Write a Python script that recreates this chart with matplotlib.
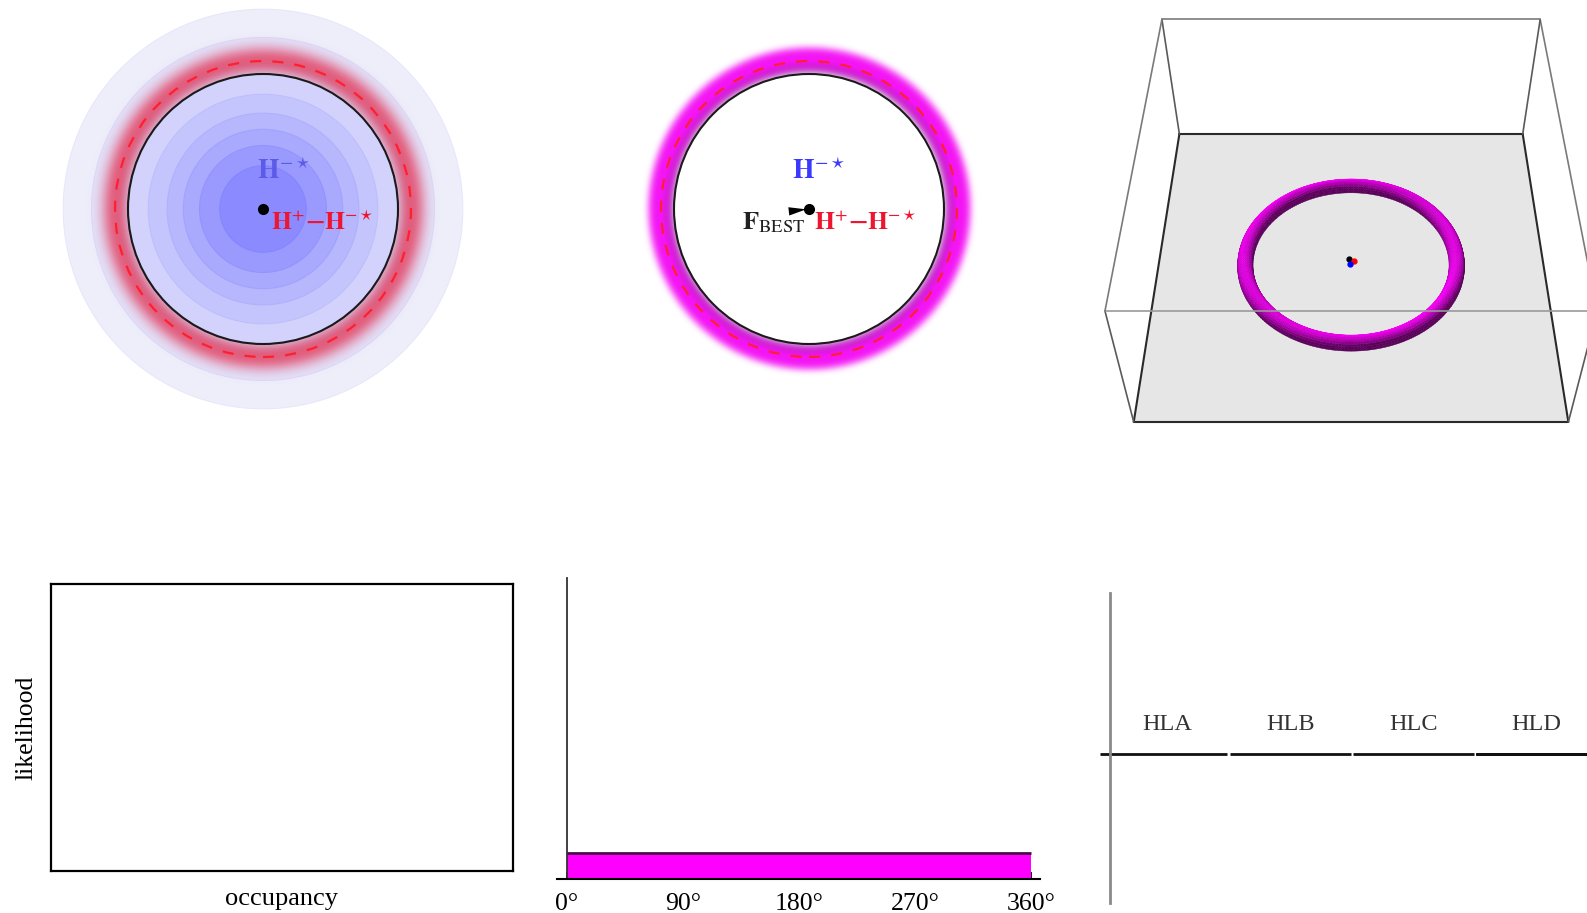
import numpy as np
import matplotlib
matplotlib.use("Agg")
import matplotlib.pyplot as plt
from matplotlib.patches import Circle, Polygon
from matplotlib.collections import PolyCollection
from matplotlib.colors import LinearSegmentedColormap, to_rgb

W, H = 1587, 913

plt.rcParams['font.family'] = ['Liberation Serif', 'DejaVu Serif']
plt.rcParams['mathtext.fontset'] = 'stix'

# likelihood contours of the hole boundary (radius relative to the true hole)
ring_radius = [1.48, 1.27, 1.00, 0.85, 0.71, 0.59, 0.47, 0.32]
ring_level = [0.02, 0.12, 0.26, 0.38, 0.50, 0.62, 0.75, 0.88]

true_radius = 1.0
est_radius = 1.10
est_spread = 0.10
best_fit = (0.0, 0.0)

# 3d view of the recovered ring on the detector floor
ring3d_radius = 0.55
ring3d_tube = 0.04
ring3d_height = 0.055
centre_marks_x = [-0.012, 0.015, -0.004]
centre_marks_y = [0.012, 0.0, -0.022]
centre_marks_c = ['black', 'red', 'blue']

# angular histogram
angle_left = [0]
angle_width = [360]
angle_density = [0.087]
angle_ticks = [0, 90, 180, 270, 360]
angle_labels = ['0°', '90°', '180°', '270°', '360°']

# handle-level summary
hl_names = ['HLA', 'HLB', 'HLC', 'HLD']
hl_values = [0, 0, 0, 0]

H_STAR = r'$\mathbf{H}^{-\star}$'
H_DIFF = r'$\mathbf{H}^{+}\mathbf{-}\mathbf{H}^{-\star}$'

fig = plt.figure(figsize=(W / 100, H / 100), dpi=100)


def px_axes(x0, y0, x1, y1):
    return fig.add_axes([x0 / W, 1 - y1 / H, (x1 - x0) / W, (y1 - y0) / H])


g = np.linspace(-1.5, 1.5, 801)
gx, gy = np.meshgrid(g, g)
rr = np.hypot(gx, gy)


def band_image(color, inner_color, peak, power):
    a = peak * np.exp(-np.abs((rr - est_radius) / est_spread) ** power)
    a[rr < true_radius] = 0
    mix = np.clip((est_radius - rr) / est_spread, 0, 1)[..., None] * 0.6
    img = np.zeros(rr.shape + (4,))
    img[..., :3] = np.array(to_rgb(color)) * (1 - mix) + np.array(to_rgb(inner_color)) * mix
    img[..., 3] = a
    return img


def disc_axes(cx):
    ax = px_axes(cx - 202.5, 6.5, cx + 202.5, 411.5)
    ax.set_xlim(-1.5, 1.5)
    ax.set_ylim(-1.5, 1.5)
    ax.set_aspect('equal')
    ax.axis('off')
    return ax


def boundary_lines(ax):
    ax.add_patch(Circle((0, 0), est_radius - 0.004, fill=False, ec='#ff1f2f',
                        lw=1.6, ls=(0, (5, 5)), zorder=4))
    ax.add_patch(Circle((0, 0), true_radius, fill=False, ec='#1a1a1a', lw=1.5, zorder=5))


# panel 1: likelihood map
ax1 = disc_axes(263)
cmap = LinearSegmentedColormap.from_list('lik', ['#f0f0fb', '#7e7eff'])
for r, lv in zip(ring_radius, ring_level):
    ax1.add_patch(Circle((0, 0), r, fc=cmap(lv), ec=cmap(min(lv + 0.06, 1)), lw=0.8, zorder=1))
ax1.imshow(band_image('#e23355', '#c01040', 0.75, 2.2), extent=(-1.5, 1.5, -1.5, 1.5),
           origin='lower', interpolation='bilinear', zorder=3)
boundary_lines(ax1)
ax1.plot(*best_fit, 'o', color='black', ms=7, zorder=6)
ax1.text(best_fit[0] + 0.15, best_fit[1] + 0.27, H_STAR, color='#5b5be8',
         fontsize=20, ha='center', va='center', zorder=6)
ax1.text(best_fit[0] + 0.06, best_fit[1] - 0.10, H_DIFF, color='#ee1530',
         fontsize=18.5, ha='left', va='center', zorder=6)

# panel 2: estimated boundary band
ax2 = disc_axes(809)
ax2.imshow(band_image('#f414f4', '#7c2a88', 1.0, 4), extent=(-1.5, 1.5, -1.5, 1.5),
           origin='lower', interpolation='bilinear', zorder=3)
boundary_lines(ax2)
ax2.plot(*best_fit, 'o', color='black', ms=7, zorder=6)
ax2.annotate('', xy=best_fit, xytext=(best_fit[0] - 0.17, best_fit[1] - 0.02),
             arrowprops=dict(arrowstyle='wedge,tail_width=0.6', color='black', lw=0), zorder=6)
ax2.text(best_fit[0] + 0.07, best_fit[1] + 0.27, H_STAR, color='#3a3aff',
         fontsize=20, ha='center', va='center', zorder=6)
ax2.text(best_fit[0] + 0.04, best_fit[1] - 0.10, H_DIFF, color='#ee1530',
         fontsize=18.5, ha='left', va='center', zorder=6)
ax2.text(best_fit[0] - 0.03, best_fit[1] - 0.10, r'$\mathbf{F}_{\mathrm{BEST}}$', color='#202020',
         fontsize=19, ha='right', va='center', zorder=6)

# panel 3: perspective box with the ring lying on its floor
cam_d, cam_h, cam_tilt = 3.855, 4.246, np.radians(47.7)
box_h = 0.80


def project(x, y, z):
    x, y, z = np.broadcast_arrays(np.asarray(x, float), np.asarray(y, float), np.asarray(z, float))
    w = y + cam_d
    v = cam_h - z
    depth = w * np.cos(cam_tilt) + v * np.sin(cam_tilt)
    return x / depth, (w * np.sin(cam_tilt) - v * np.cos(cam_tilt)) / depth, depth


ax3 = px_axes(1080, 0, 1587, 440)
ax3.set_xlim(-0.2464, 0.2145)
ax3.set_ylim(-0.1637, 0.2363)
ax3.axis('off')

cx = np.array([-1, 1, 1, -1])
cy = np.array([-1, -1, 1, 1])
fx, fy, _ = project(cx, cy, 0)
ax3.add_patch(Polygon(np.column_stack([fx, fy]), closed=True, fc='#e6e6e6', ec='none', zorder=1))


def edge(p, q, color, lw, z=2):
    sx, sy, _ = project([p[0], q[0]], [p[1], q[1]], [p[2], q[2]])
    ax3.plot(sx, sy, color=color, lw=lw, zorder=z, solid_capstyle='round')


for i in range(4):
    j = (i + 1) % 4
    edge((cx[i], cy[i], 0), (cx[j], cy[j], 0), '#2a2a2a', 1.5)

nu, nv = 240, 12
u = np.linspace(0, 2 * np.pi, nu + 1)
v = np.linspace(0, np.pi, nv + 1)
U, V = np.meshgrid(u, v, indexing='ij')
Rr = ring3d_radius + ring3d_tube * np.cos(V)
px, py, dep = project(Rr * np.cos(U), Rr * np.sin(U), ring3d_height * np.sin(V))
light = np.array([-0.3, 0.55, 0.8])
light /= np.linalg.norm(light)
polys, depths, shades = [], [], []
for i in range(nu):
    for j in range(nv):
        quad = [(px[i, j], py[i, j]), (px[i + 1, j], py[i + 1, j]),
                (px[i + 1, j + 1], py[i + 1, j + 1]), (px[i, j + 1], py[i, j + 1])]
        um = 0.5 * (u[i] + u[i + 1])
        vm = 0.5 * (v[j] + v[j + 1])
        n = np.array([np.cos(vm) * np.cos(um), np.cos(vm) * np.sin(um), np.sin(vm)])
        polys.append(quad)
        depths.append(dep[i:i + 2, j:j + 2].mean())
        shades.append(0.35 + 0.65 * max(0.0, n @ light))
order = np.argsort(depths)[::-1]
cols = [(shades[k], 0.0, shades[k]) for k in order]
ax3.add_collection(PolyCollection([polys[k] for k in order], facecolors=cols,
                                  edgecolors=cols, linewidths=0.3, zorder=3))

mx, my, _ = project(centre_marks_x, centre_marks_y, 0)
for x_, y_, c_ in zip(mx, my, centre_marks_c):
    ax3.plot(x_, y_, 'o', color=c_, ms=3.5, zorder=4)

for i in range(4):
    j = (i + 1) % 4
    edge((cx[i], cy[i], 0), (cx[i], cy[i], box_h), '#5a5a5a', 1.2, z=5)
    color = '#9a9a9a' if i == 0 else '#7a7a7a'
    edge((cx[i], cy[i], box_h), (cx[j], cy[j], box_h), color, 1.2, z=5)

# panel 4: occupancy likelihood
ax4 = px_axes(51, 584, 513, 871)
ax4.set_xticks([])
ax4.set_yticks([])
for s in ax4.spines.values():
    s.set_linewidth(1.6)
ax4.set_xlabel('occupancy', fontsize=19, labelpad=12)
ax4.set_ylabel('likelihood', fontsize=18.5, labelpad=10)

# panel 5: orientation histogram
ax5 = px_axes(557, 578, 1040, 879)
ax5.bar(angle_left, angle_density, width=angle_width, align='edge', color='#ff00ff', zorder=2)
ax5.hlines(angle_density, angle_left, np.add(angle_left, angle_width), color='#4a0a4a', lw=2, zorder=3)
ax5.set_xlim(-7.8, 366.9)
ax5.set_ylim(0, 1)
for s in ['top', 'right']:
    ax5.spines[s].set_visible(False)
ax5.spines['left'].set_position(('data', 0))
ax5.spines['left'].set_color('#333333')
ax5.spines['left'].set_linewidth(1.3)
ax5.spines['bottom'].set_linewidth(1.5)
ax5.spines['bottom'].set_zorder(4)
ax5.set_yticks([])
ax5.set_xticks(angle_ticks, angle_labels)
ax5.tick_params(axis='x', direction='in', length=5, width=1.3, labelsize=18.5, pad=10)

# panel 6: handle-level categories
ax6 = px_axes(1110, 593, 1660, 903)
ax6.bar(range(len(hl_names)), hl_values, width=0.98, color='none', edgecolor='#111111', linewidth=2)
ax6.set_xlim(-0.462, 4.0)
ax6.set_ylim(-0.93, 1.0)
for s in ['top', 'right', 'bottom']:
    ax6.spines[s].set_visible(False)
ax6.spines['left'].set_color('#8a8a8a')
ax6.spines['left'].set_linewidth(2)
ax6.set_xticks([])
ax6.set_yticks([0], [''])
ax6.tick_params(axis='y', direction='out', length=7, width=2, color='#111111')
for i, name in enumerate(hl_names):
    ax6.annotate(name, (i, hl_values[i]), xytext=(0, 21), textcoords='offset points',
                 ha='center', va='center', fontsize=17.5, color='#333333')

fig.savefig('out.png', dpi=100)
